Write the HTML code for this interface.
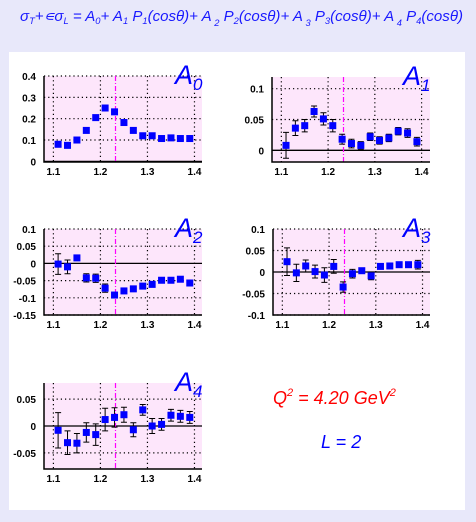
<!DOCTYPE html>
<html><head><meta charset="utf-8"><style>
html,body{margin:0;padding:0;background:#e8e8fa;}
#wrap{position:relative;width:476px;height:522px;overflow:hidden;font-family:"Liberation Sans",sans-serif;}
</style></head><body>
<div id="wrap">
<svg id="svg" width="476" height="522" xmlns="http://www.w3.org/2000/svg">
<rect x="0" y="0" width="476" height="522" fill="#e8e8fa"/>
<rect x="9" y="52" width="456" height="458" fill="#ffffff"/>
<text x="20" y="21" font-size="14.5" font-style="italic" fill="#1a1aff" font-family="Liberation Sans, sans-serif" textLength="443" lengthAdjust="spacingAndGlyphs">σ<tspan font-size="9" dy="3">T</tspan><tspan dy="-3">+∊σ</tspan><tspan font-size="9" dy="3">L</tspan><tspan dy="-3"> = A</tspan><tspan font-size="9" dy="3">0</tspan><tspan dy="-3">+ A</tspan><tspan font-size="9" dy="3">1</tspan><tspan dy="-3"> P</tspan><tspan font-size="9" dy="3">1</tspan><tspan dy="-3">(cosθ)+ A</tspan><tspan font-size="9" dy="5"> 2</tspan><tspan dy="-5"> P</tspan><tspan font-size="9" dy="3">2</tspan><tspan dy="-3">(cosθ)+ A</tspan><tspan font-size="9" dy="5"> 3</tspan><tspan dy="-5"> P</tspan><tspan font-size="9" dy="3">3</tspan><tspan dy="-3">(cosθ)+ A</tspan><tspan font-size="9" dy="5"> 4</tspan><tspan dy="-5"> P</tspan><tspan font-size="9" dy="3">4</tspan><tspan dy="-3">(cosθ)</tspan></text>
<text x="273" y="404" font-size="18" font-style="italic" fill="#ff0000">Q<tspan font-size="11" dy="-8">2</tspan><tspan dy="8"> = 4.20 GeV</tspan><tspan font-size="11" dy="-8">2</tspan></text>
<text x="321" y="448" font-size="18" font-style="italic" fill="#0000ff">L = 2</text>
</svg>
</div>
<script>
const xCats = [1.11,1.13,1.15,1.17,1.19,1.21,1.23,1.25,1.27,1.29,1.31,1.33,1.35,1.37,1.39];
const xTicks = [1.1,1.2,1.3,1.4];
const xTickLabels = ["1.1","1.2","1.3","1.4"];
const resonanceX = 1.232;
const a0Values = [0.08,0.075,0.1,0.145,0.205,0.25,0.232,0.182,0.145,0.12,0.12,0.107,0.11,0.107,0.107];
const a0Errors = [0.003,0.003,0.003,0.003,0.003,0.003,0.003,0.003,0.003,0.003,0.003,0.003,0.003,0.003,0.003];
const a1Values = [0.008,0.036,0.04,0.063,0.051,0.04,0.018,0.011,0.008,0.022,0.016,0.02,0.031,0.028,0.014];
const a1Errors = [0.021,0.012,0.01,0.009,0.01,0.01,0.008,0.007,0.006,0.006,0.006,0.006,0.006,0.007,0.007];
const a2Values = [-0.002,-0.01,0.016,-0.042,-0.043,-0.072,-0.092,-0.08,-0.074,-0.066,-0.061,-0.049,-0.049,-0.046,-0.057];
const a2Errors = [0.03,0.02,0.01,0.012,0.012,0.012,0.01,0.008,0.006,0.006,0.006,0.006,0.006,0.006,0.01];
const a3Values = [0.024,-0.002,0.014,0.001,-0.007,0.013,-0.035,-0.004,0.003,-0.009,0.013,0.014,0.017,0.017,0.017];
const a3Errors = [0.032,0.02,0.014,0.015,0.017,0.016,0.012,0.01,0.008,0.009,0.008,0.008,0.008,0.008,0.01];
const a4Values = [-0.008,-0.031,-0.032,-0.012,-0.016,0.012,0.016,0.021,-0.007,0.03,0,0.003,0.02,0.018,0.016];
const a4Errors = [0.033,0.022,0.018,0.018,0.02,0.021,0.018,0.014,0.013,0.01,0.014,0.011,0.011,0.011,0.011];
const a0Ticks = [0,0.1,0.2,0.3,0.4]; const a0TickLabels = ["0","0.1","0.2","0.3","0.4"];
const a1Ticks = [0,0.05,0.1]; const a1TickLabels = ["0","0.05","0.1"];
const a2Ticks = [-0.15,-0.1,-0.05,0,0.05,0.1]; const a2TickLabels = ["-0.15","-0.1","-0.05","0","0.05","0.1"];
const a3Ticks = [-0.1,-0.05,0,0.05,0.1]; const a3TickLabels = ["-0.1","-0.05","0","0.05","0.1"];
const a4Ticks = [-0.05,0,0.05]; const a4TickLabels = ["-0.05","0","0.05"];

const NS="http://www.w3.org/2000/svg";
const svg=document.getElementById('svg');
function mk(tag,attrs,parent){const e=document.createElementNS(NS,tag);for(const k in attrs)e.setAttribute(k,attrs[k]);(parent||svg).appendChild(e);return e;}

function panel(cfg){
  const g=mk('g',{});
  
  
  const {L,R,T,B,xmin,xmax,ymin,ymax}=cfg;
  const sx=v=>L+(v-xmin)/(xmax-xmin)*(R-L);
  const sy=v=>B-(v-ymin)/(ymax-ymin)*(B-T);
  const bg=mk('rect',{x:L,y:T,width:R-L,height:B-T,fill:'#fde6fb'},g);
  
  
  xTicks.forEach((t,i)=>{
    const x=sx(t);
    const gl=mk('line',{x1:x,x2:x,y1:T,y2:B,stroke:'#000','stroke-width':1.2,'stroke-dasharray':'1.2,3'},g);
    
    
    const tl=mk('text',{x:x,y:B+13,'font-size':10,'font-weight':'bold','text-anchor':'middle',fill:'#000'},g);
    tl.textContent=xTickLabels[i];
    
    
  });
  cfg.ticks.forEach((t,i)=>{
    const y=sy(t);
    if(t!==0){
      const gl=mk('line',{x1:L,x2:R,y1:y,y2:y,stroke:'#000','stroke-width':1.2,'stroke-dasharray':'1.2,3'},g);
      
      
    } else {
      const zl=mk('line',{x1:L,x2:R,y1:y,y2:y,stroke:'#000','stroke-width':1.3},g);
      
      
    }
    const tl=mk('text',{x:L-8,y:y+4,'font-size':10,'font-weight':'bold','text-anchor':'end',fill:'#000'},g);
    tl.textContent=cfg.tickLabels[i];
    
    
  });
  const rx=Math.round(sx(resonanceX))+0.5;
  const rl=mk('line',{x1:rx,x2:rx,y1:T,y2:B,stroke:'#ff00ff','stroke-width':1.2,'stroke-dasharray':'5,2,1,2'},g);
  
  
  const ax=mk('path',{d:`M${L} ${T} L${L} ${B} L${R} ${B}`,fill:'none',stroke:'#000','stroke-width':1.5},g);
  
  
  xCats.forEach((xv,i)=>{
    const x=sx(xv),y=sy(cfg.values[i]),e=cfg.errors[i];
    const y1=sy(cfg.values[i]+e),y2=sy(cfg.values[i]-e);
    if(Math.abs(y2-y1)>7){
      const eb=mk('path',{d:`M${x} ${y1} L${x} ${y2} M${x-3} ${y1} L${x+3} ${y1} M${x-3} ${y2} L${x+3} ${y2}`,stroke:'#000','stroke-width':1,fill:'none'},g);
      
      
    }
    const p=mk('rect',{x:x-3.5,y:y-3.5,width:7,height:7,fill:'#0000ff'},g);
    
    
  });
  const lab=mk('text',{x:cfg.labX,y:T+8,'font-size':27,'font-style':'italic',fill:'#0000ff'},g);
  lab.innerHTML='A<tspan font-size="17" dy="6">'+cfg.sub+'</tspan>';
  
  
}
panel({name:'panel-a0',L:44,R:202,T:76,B:162,xmin:1.08,xmax:1.416,ymin:-0.003,ymax:0.4,values:a0Values,errors:a0Errors,ticks:a0Ticks,tickLabels:a0TickLabels,sub:'0',labX:175});
panel({name:'panel-a1',L:272,R:430,T:77,B:162,xmin:1.08,xmax:1.418,ymin:-0.019,ymax:0.119,values:a1Values,errors:a1Errors,ticks:a1Ticks,tickLabels:a1TickLabels,sub:'1',labX:403});
panel({name:'panel-a2',L:44,R:202,T:229,B:315,xmin:1.08,xmax:1.416,ymin:-0.15,ymax:0.1,values:a2Values,errors:a2Errors,ticks:a2Ticks,tickLabels:a2TickLabels,sub:'2',labX:175});
panel({name:'panel-a3',L:273,R:430,T:229,B:315,xmin:1.08,xmax:1.416,ymin:-0.1,ymax:0.1,values:a3Values,errors:a3Errors,ticks:a3Ticks,tickLabels:a3TickLabels,sub:'3',labX:403});
panel({name:'panel-a4',L:44,R:202,T:383,B:469,xmin:1.08,xmax:1.416,ymin:-0.08,ymax:0.08,values:a4Values,errors:a4Errors,ticks:a4Ticks,tickLabels:a4TickLabels,sub:'4',labX:175});
</script>
</body></html>
